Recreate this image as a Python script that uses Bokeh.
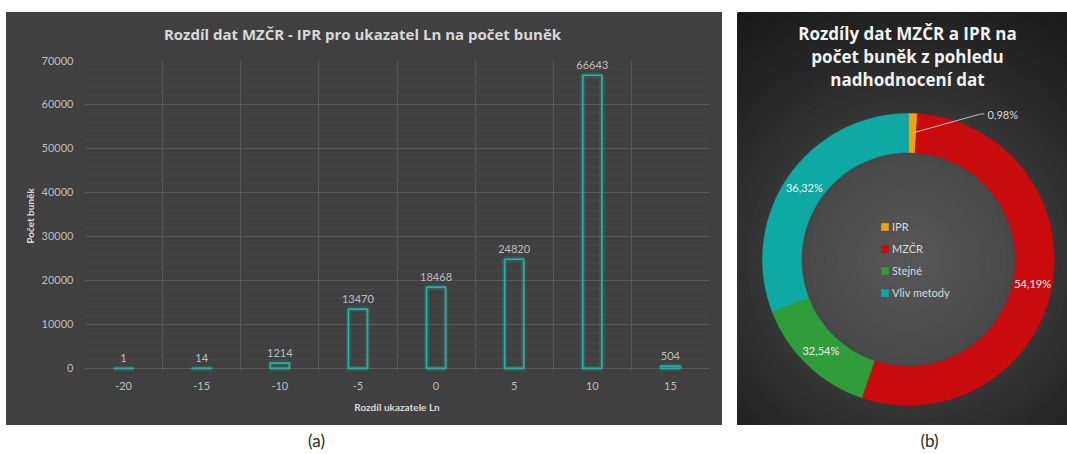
import numpy as np
from bokeh.plotting import figure
from bokeh.models import (Range1d, FixedTicker, SingleIntervalTicker, LabelSet,
                          ColumnDataSource, Spacer, NumeralTickFormatter)
from bokeh.layouts import row, column
from bokeh.embed import file_html
from bokeh.resources import INLINE
from bokeh.core.properties import value

# ---------------- data ----------------
diff_values = [-20, -15, -10, -5, 0, 5, 10, 15]
cell_counts = [1, 14, 1214, 13470, 18468, 24820, 66643, 504]

group_names = ["IPR", "MZČR", "Stejné", "Vliv metody"]
group_shares = [0.98, 54.19, 14.03, 30.80]          # angular size of each ring segment
group_labels = ["0,98%", "54,19%", "32,54%", "36,32%"]  # labels as printed
group_colors = ["#f5a10f", "#c90b0e", "#2e9d3a", "#0fa9a3"]

bar_title = "Rozdíl dat MZČR - IPR pro ukazatel Ln na počet buněk"
x_title = "Rozdíl ukazatele Ln"
y_title = "Počet buněk"
donut_title = ["Rozdíly dat MZČR a IPR na", "počet buněk z pohledu", "nadhodnocení dat"]
captions = ["(a)", "(b)"]

BG = "#404040"
TEAL = "#26b2a2"


def blank(w, h, bg, xr, yr):
    f = figure(width=w, height=h, x_range=xr, y_range=yr, output_backend="svg",
               toolbar_location=None, min_border=0, frame_align=False, title=None,
               x_axis_location=None, y_axis_location=None, outline_line_color=None,
               background_fill_color=bg, border_fill_color=bg)
    f.grid.grid_line_color = None
    return f


# ---------------- left: title strip ----------------
t = blank(716, 40, BG, Range1d(0, 716), Range1d(0, 40))
t.text(x=[356], y=[19], text=[bar_title], text_align="center", text_baseline="middle",
       text_font=value("Open Sans"), text_font_style="bold", text_font_size="15px",
       text_color="#d9d9d9")

# ---------------- left: bar chart ----------------
p = figure(width=716, height=373, x_range=Range1d(-22.5, 17.5), y_range=Range1d(-700, 70000),
           output_backend="svg", toolbar_location=None, frame_align=False, title=None,
           min_border_left=78, min_border_right=13, min_border_top=8, min_border_bottom=54,
           background_fill_color=BG, border_fill_color=BG, outline_line_color=None)

src = ColumnDataSource(dict(x=diff_values, top=cell_counts, label=[str(v) for v in cell_counts]))
p.vbar(x="x", top="top", bottom=0, width=1.22, source=src, fill_color=None,
       line_color=TEAL, line_width=5, line_alpha=0.2)
p.vbar(x="x", top="top", bottom=0, width=1.22, source=src, fill_color=None,
       line_color=TEAL, line_width=1.7)
p.add_layout(LabelSet(x="x", y="top", text="label", source=src, text_align="center",
                      text_baseline="bottom", y_offset=6, text_font=value("Lato"),
                      text_font_size=value("11px"), text_color="#bfbfbf"))

p.xaxis.ticker = FixedTicker(ticks=diff_values)
p.xaxis.major_label_overrides = {v: str(v) for v in diff_values}
p.xgrid.ticker = FixedTicker(ticks=[v - 2.5 for v in diff_values] + [diff_values[-1] + 2.5])
yt = SingleIntervalTicker(interval=10000, num_minor_ticks=5)
p.yaxis.ticker = yt
p.ygrid.ticker = yt
p.yaxis.formatter = NumeralTickFormatter(format="0")
p.grid.grid_line_color = "#575757"
p.ygrid.minor_grid_line_color = "#474747"

p.axis.axis_line_color = None
p.axis.major_tick_line_color = None
p.axis.minor_tick_line_color = None
p.axis.major_tick_out = 0
p.axis.major_tick_in = 0
p.axis.minor_tick_out = 0
p.axis.major_label_text_font = "Lato"
p.axis.major_label_text_font_size = "11px"
p.axis.major_label_text_color = "#bfbfbf"
p.axis.axis_label_text_font = "Lato"
p.axis.axis_label_text_font_style = "bold"
p.axis.axis_label_text_font_size = "10px"
p.axis.axis_label_text_color = "#d9d9d9"
p.xaxis.axis_label = x_title
p.yaxis.axis_label = y_title
p.xaxis.major_label_standoff = 10
p.yaxis.major_label_standoff = 11
p.xaxis.axis_label_standoff = 8
p.yaxis.axis_label_standoff = 3

# ---------------- right: donut ----------------
W2, H2 = 330, 413
q = blank(W2, H2, "#1c1c1c", Range1d(0, W2), Range1d(0, H2))
cx, cy = 171, 166
R_OUT, R_IN = 146, 107

# radial background shading
radii = np.linspace(315, 3, 60)
shade = np.interp(radii, [0, 100, 150, 200, 315], [0x58, 0x4b, 0x36, 0x2a, 0x17])
bg_colors = ["#%02x%02x%02x" % (int(s), int(s), int(s)) for s in shade]
q.circle(x=cx, y=cy, radius=radii, fill_color=bg_colors, line_color=None)

shares = np.array(group_shares)
cum = np.concatenate([[0.0], np.cumsum(shares)]) / shares.sum()
start = np.pi / 2 - 2 * np.pi * cum[:-1]
end = np.pi / 2 - 2 * np.pi * cum[1:]
mid = (start + end) / 2
src2 = ColumnDataSource(dict(name=group_names, start=start, end=end, color=group_colors))
q.annular_wedge(x=cx, y=cy, inner_radius=R_IN, outer_radius=R_OUT, start_angle="start",
                end_angle="end", direction="clock", fill_color="color", line_color="color",
                line_width=0.5, source=src2, legend_field="name")

rm = (R_IN + R_OUT) / 2
lx = cx + rm * np.cos(mid)
ly = cy + rm * np.sin(mid)
q.text(x=lx[1:], y=ly[1:], text=group_labels[1:], text_align="center", text_baseline="middle",
       text_font=value("Lato"), text_font_size="11px", text_color="#f0f0f0")
# outside label with leader line for the small segment
q.line(x=[lx[0], 243, 247], y=[ly[0], 311.5, 311.5], line_color="#bfbfbf", line_width=1)
q.text(x=[250], y=[311], text=[group_labels[0]], text_align="left", text_baseline="middle",
       text_font=value("Lato"), text_font_size="11px", text_color="#d9d9d9")

q.text(x=[170, 170, 170], y=[392, 369, 346], text=donut_title, text_align="center",
       text_baseline="middle", text_font=value("Open Sans"), text_font_style="bold",
       text_font_size="17px", text_color="#f2f2f2")

leg = q.legend[0]
leg.location = (143, 126)
leg.background_fill_alpha = 0
leg.border_line_color = None
leg.padding = 0
leg.margin = 0
leg.spacing = 8
leg.glyph_width = 9
leg.glyph_height = 9
leg.label_height = 14
leg.label_standoff = 3
leg.label_text_font = "Lato"
leg.label_text_font_size = "11px"
leg.label_text_color = "#d9d9d9"

# ---------------- captions ----------------
c = blank(1067, 29, "white", Range1d(0, 1067), Range1d(454, 425))
c.text(x=[316, 929], y=[440, 440], text=captions, text_align="center", text_baseline="middle",
       text_font=value("Lato"), text_font_size="17px", text_color="#262626")

left_panel = column(t, p, spacing=0, styles={"background-color": BG})
layout = column(Spacer(height=12),
                row(Spacer(width=6), left_panel, Spacer(width=15), q),
                c)
open("out.html", "w").write(file_html(layout, INLINE))
